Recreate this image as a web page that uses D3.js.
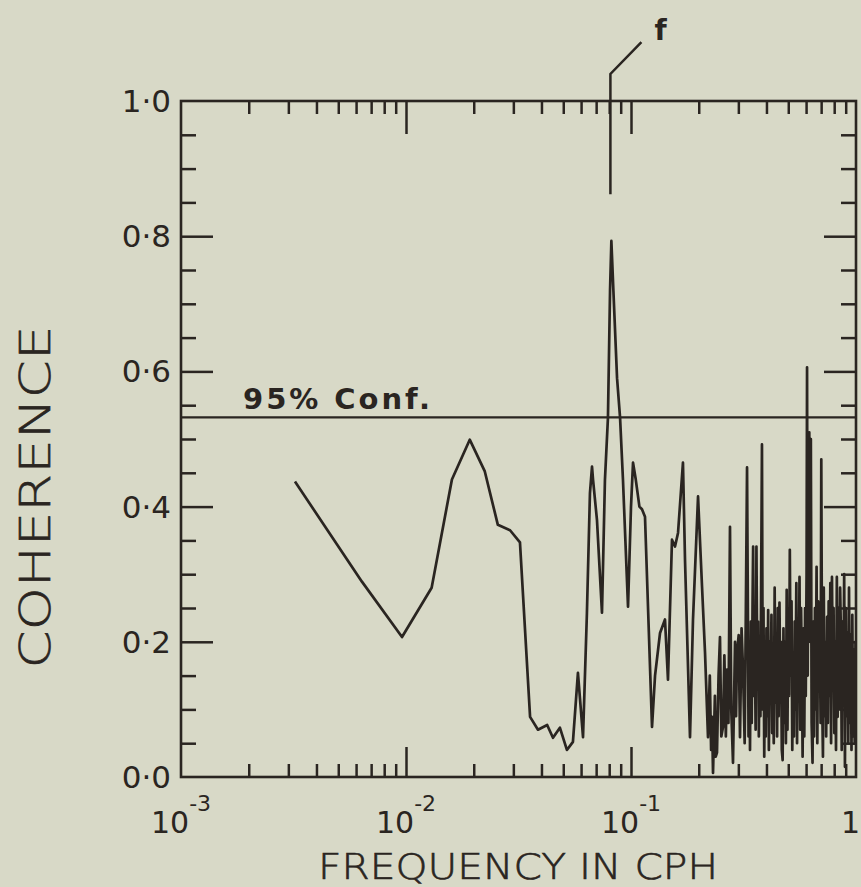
<!DOCTYPE html>
<html>
<head>
<meta charset="utf-8">
<script src="https://cdn.jsdelivr.net/npm/d3@7"></script>
<style>
  body { margin: 0; background: #d8d9c7; }
  svg { display: block; }
  text { fill: #2a2521; font-family: "DejaVu Sans", sans-serif; }
</style>
</head>
<body>
<svg id="chart" width="861" height="887"></svg>
<script>
// coherence vs frequency (cph) in three pieces
var freqLow = [
  0.00321, 0.00637, 0.0096, 0.0130, 0.0160, 0.0192, 0.0224, 0.0256, 0.0290, 0.0321,
  0.0356, 0.0386, 0.0424, 0.0450, 0.0483, 0.0519, 0.0552, 0.0581, 0.0612, 0.0637,
  0.0657, 0.0671, 0.0678, 0.0706, 0.0743, 0.0766, 0.0790, 0.0807, 0.0818, 0.0835,
  0.0867, 0.0894, 0.0921, 0.0970, 0.1000, 0.1021, 0.1050, 0.1090, 0.1119, 0.1154
];
var cohLow = [
  0.437, 0.289, 0.207, 0.280, 0.440, 0.499, 0.452, 0.373, 0.365, 0.347,
  0.089, 0.070, 0.077, 0.058, 0.073, 0.040, 0.052, 0.154, 0.059, 0.243,
  0.420, 0.459, 0.440, 0.380, 0.243, 0.440, 0.532, 0.720, 0.793, 0.720,
  0.590, 0.532, 0.440, 0.252, 0.400, 0.465, 0.440, 0.400, 0.396, 0.385
];
var freqMid = [
  0.1240, 0.1279, 0.1346, 0.1416, 0.1460, 0.1521, 0.1569, 0.1618, 0.1702, 0.1738,
  0.1829, 0.1886, 0.1986, 0.2069, 0.2133, 0.2199, 0.2240, 0.2270, 0.2291, 0.2315,
  0.2360, 0.2380, 0.2411, 0.2450, 0.2486, 0.2520, 0.2564, 0.2600, 0.2640, 0.2672,
  0.2710, 0.2754, 0.2790, 0.2840, 0.2900, 0.2930, 0.2959, 0.3010, 0.3051, 0.3100,
  0.3147, 0.3200, 0.3240, 0.3279
];
var cohMid = [
  0.074, 0.150, 0.213, 0.233, 0.144, 0.351, 0.341, 0.361, 0.465, 0.321,
  0.059, 0.233, 0.415, 0.281, 0.184, 0.059, 0.150, 0.040, 0.089, 0.006,
  0.120, 0.030, 0.036, 0.150, 0.207, 0.060, 0.074, 0.180, 0.060, 0.159,
  0.080, 0.370, 0.100, 0.021, 0.200, 0.090, 0.184, 0.210, 0.059, 0.220,
  0.159, 0.050, 0.250, 0.458
];
var freqHigh = [
  0.330, 0.333, 0.336, 0.338, 0.341, 0.344, 0.347, 0.349, 0.352, 0.355,
  0.358, 0.361, 0.364, 0.367, 0.370, 0.373, 0.376, 0.379, 0.382, 0.385,
  0.388, 0.391, 0.394, 0.397, 0.400, 0.404, 0.407, 0.410, 0.414, 0.417,
  0.421, 0.424, 0.428, 0.431, 0.435, 0.438, 0.442, 0.446, 0.449, 0.453,
  0.457, 0.461, 0.464, 0.468, 0.472, 0.476, 0.480, 0.484, 0.488, 0.492,
  0.496, 0.500, 0.504, 0.508, 0.512, 0.517, 0.521, 0.525, 0.530, 0.534,
  0.538, 0.543, 0.547, 0.552, 0.556, 0.561, 0.565, 0.570, 0.575, 0.579,
  0.584, 0.589, 0.594, 0.598, 0.603, 0.606, 0.610, 0.615, 0.620, 0.625,
  0.630, 0.635, 0.641, 0.646, 0.651, 0.657, 0.662, 0.668, 0.673, 0.679,
  0.684, 0.690, 0.696, 0.701, 0.707, 0.713, 0.719, 0.725, 0.731, 0.737,
  0.744, 0.750, 0.756, 0.762, 0.769, 0.775, 0.782, 0.788, 0.795, 0.801,
  0.808, 0.815, 0.822, 0.829, 0.836, 0.843, 0.850, 0.857, 0.864, 0.871,
  0.879, 0.886, 0.893, 0.901, 0.908, 0.916, 0.924, 0.931, 0.939, 0.947,
  0.955, 0.963, 0.971, 0.979, 0.987, 0.995, 1.000
];
var cohHigh = [
  0.300, 0.060, 0.184, 0.040, 0.230, 0.080, 0.260, 0.341, 0.120, 0.200,
  0.070, 0.341, 0.150, 0.230, 0.060, 0.200, 0.090, 0.300, 0.492, 0.100,
  0.250, 0.030, 0.180, 0.060, 0.220, 0.090, 0.247, 0.040, 0.200, 0.110,
  0.240, 0.065, 0.180, 0.050, 0.280, 0.110, 0.213, 0.060, 0.250, 0.090,
  0.258, 0.120, 0.200, 0.040, 0.025, 0.220, 0.080, 0.200, 0.050, 0.277,
  0.070, 0.240, 0.120, 0.336, 0.150, 0.260, 0.040, 0.180, 0.060, 0.230,
  0.100, 0.287, 0.050, 0.220, 0.130, 0.296, 0.070, 0.250, 0.150, 0.030,
  0.220, 0.060, 0.250, 0.120, 0.300, 0.606, 0.150, 0.420, 0.510, 0.200,
  0.500, 0.080, 0.021, 0.230, 0.060, 0.250, 0.100, 0.311, 0.050, 0.260,
  0.140, 0.230, 0.080, 0.470, 0.120, 0.030, 0.280, 0.090, 0.200, 0.060,
  0.237, 0.080, 0.260, 0.120, 0.287, 0.050, 0.296, 0.150, 0.250, 0.065,
  0.200, 0.040, 0.296, 0.089, 0.250, 0.100, 0.280, 0.213, 0.040, 0.230,
  0.120, 0.300, 0.015, 0.250, 0.090, 0.213, 0.050, 0.280, 0.080, 0.210,
  0.040, 0.240, 0.060, 0.188, 0.050, 0.200, 0.120
];

var yTickLabels = ["0·0", "0·2", "0·4", "0·6", "0·8", "1·0"];
var yMajor = [0, 0.2, 0.4, 0.6, 0.8, 1.0];
var xDecades = [0.001, 0.01, 0.1, 1];
var xDecadeExp = ["-3", "-2", "-1", ""];
var confLevel = 0.532;
var markerFreq = 0.081;

var freq = freqLow.concat(freqMid, freqHigh);
var coherence = cohLow.concat(cohMid, cohHigh);

var ink = "#2a2521";
var svg = d3.select("#chart");

var x = d3.scaleLog().domain([1e-3, 1]).range([181, 856]);
var y = d3.scaleLinear().domain([0, 1]).range([777, 101]);

var xMinor = x.ticks().filter(function(d) {
  return Math.abs(Math.log10(d) - Math.round(Math.log10(d))) > 1e-6;
});
var yMinor = d3.range(0, 1.0001, 0.05).filter(function(d) {
  return Math.abs(d * 5 - Math.round(d * 5)) > 1e-6;
});

function styleAxis(g) {
  g.select(".domain").remove();
  g.selectAll("line").attr("stroke", ink).attr("stroke-width", 2.5);
  g.selectAll("text").remove();
}

// bottom + top ticks (inward)
svg.append("g").attr("transform", "translate(0,777)")
  .call(d3.axisBottom(x).tickValues(xMinor).tickSize(-13)).call(styleAxis);
svg.append("g").attr("transform", "translate(0,777)")
  .call(d3.axisBottom(x).tickValues(xDecades.slice(1, 3)).tickSize(-30)).call(styleAxis);
svg.append("g").attr("transform", "translate(0,101)")
  .call(d3.axisTop(x).tickValues(xMinor).tickSize(-13)).call(styleAxis);
svg.append("g").attr("transform", "translate(0,101)")
  .call(d3.axisTop(x).tickValues(xDecades.slice(1, 3)).tickSize(-33)).call(styleAxis);

// left + right ticks (inward)
svg.append("g").attr("transform", "translate(181,0)")
  .call(d3.axisLeft(y).tickValues(yMinor).tickSize(-15)).call(styleAxis);
svg.append("g").attr("transform", "translate(181,0)")
  .call(d3.axisLeft(y).tickValues(yMajor.slice(1, 5)).tickSize(-32)).call(styleAxis);
svg.append("g").attr("transform", "translate(856,0)")
  .call(d3.axisRight(y).tickValues(yMinor).tickSize(-15)).call(styleAxis);
svg.append("g").attr("transform", "translate(856,0)")
  .call(d3.axisRight(y).tickValues(yMajor.slice(1, 5)).tickSize(-32)).call(styleAxis);

// frame
svg.append("rect")
  .attr("x", x(1e-3)).attr("y", y(1))
  .attr("width", x(1) - x(1e-3)).attr("height", y(0) - y(1))
  .attr("fill", "none").attr("stroke", ink).attr("stroke-width", 2.6);

// 95% confidence line
svg.append("line")
  .attr("x1", x(1e-3)).attr("x2", x(1))
  .attr("y1", y(confLevel)).attr("y2", y(confLevel))
  .attr("stroke", ink).attr("stroke-width", 2.2);
svg.append("text")
  .attr("x", 243).attr("y", y(confLevel) - 8)
  .attr("font-size", 29).attr("font-weight", "bold")
  .attr("textLength", 187).attr("lengthAdjust", "spacing")
  .text("95% Conf.");

// coherence curve
svg.append("clipPath").attr("id", "plotclip").append("rect")
  .attr("x", x(1e-3)).attr("y", y(1))
  .attr("width", x(1) - x(1e-3)).attr("height", y(0) - y(1));

var line = d3.line()
  .x(function(d, i) { return x(freq[i]); })
  .y(function(d) { return y(d); });

svg.append("path")
  .datum(coherence)
  .attr("clip-path", "url(#plotclip)")
  .attr("d", line)
  .attr("fill", "none")
  .attr("stroke", ink)
  .attr("stroke-width", 2.7)
  .attr("stroke-linejoin", "round");

// "f" marker
var mx = x(markerFreq);
svg.append("path")
  .attr("d", "M" + mx + "," + y(0.862) + "V" + y(1.04) + "L" + (mx + 31) + "," + y(1.087))
  .attr("fill", "none").attr("stroke", ink).attr("stroke-width", 2.5);
svg.append("text")
  .attr("x", mx + 44).attr("y", 40)
  .attr("font-size", 28).attr("font-weight", "bold")
  .text("f");

// y tick labels
svg.selectAll(".ylab").data(yMajor).enter().append("text")
  .attr("class", "ylab")
  .attr("x", 171).attr("y", function(d) { return y(d) + 11; })
  .attr("text-anchor", "end")
  .attr("font-size", 31)
  .text(function(d, i) { return yTickLabels[i]; });

// x tick labels (10 with superscript exponent)
xDecades.forEach(function(d, i) {
  var t = svg.append("text")
    .attr("y", 833)
    .attr("font-size", 30);
  if (xDecadeExp[i]) {
    t.attr("x", x(d)).attr("text-anchor", "middle");
    t.append("tspan").text("10");
    t.append("tspan").attr("font-size", 22).attr("dy", -22).text(xDecadeExp[i]);
  } else {
    t.attr("x", 860).attr("text-anchor", "end").text("1");
  }
});

// axis titles
svg.append("text")
  .attr("x", 518).attr("y", 879)
  .attr("text-anchor", "middle")
  .attr("font-size", 36).attr("font-weight", 200)
  .attr("stroke", ink).attr("stroke-width", 0.6)
  .attr("textLength", 400).attr("lengthAdjust", "spacingAndGlyphs")
  .text("FREQUENCY IN CPH");

svg.append("text")
  .attr("transform", "translate(50,497) rotate(-90)")
  .attr("text-anchor", "middle")
  .attr("font-size", 42).attr("font-weight", 200)
  .attr("stroke", ink).attr("stroke-width", 0.6)
  .attr("textLength", 343).attr("lengthAdjust", "spacingAndGlyphs")
  .text("COHERENCE");
</script>
</body>
</html>
